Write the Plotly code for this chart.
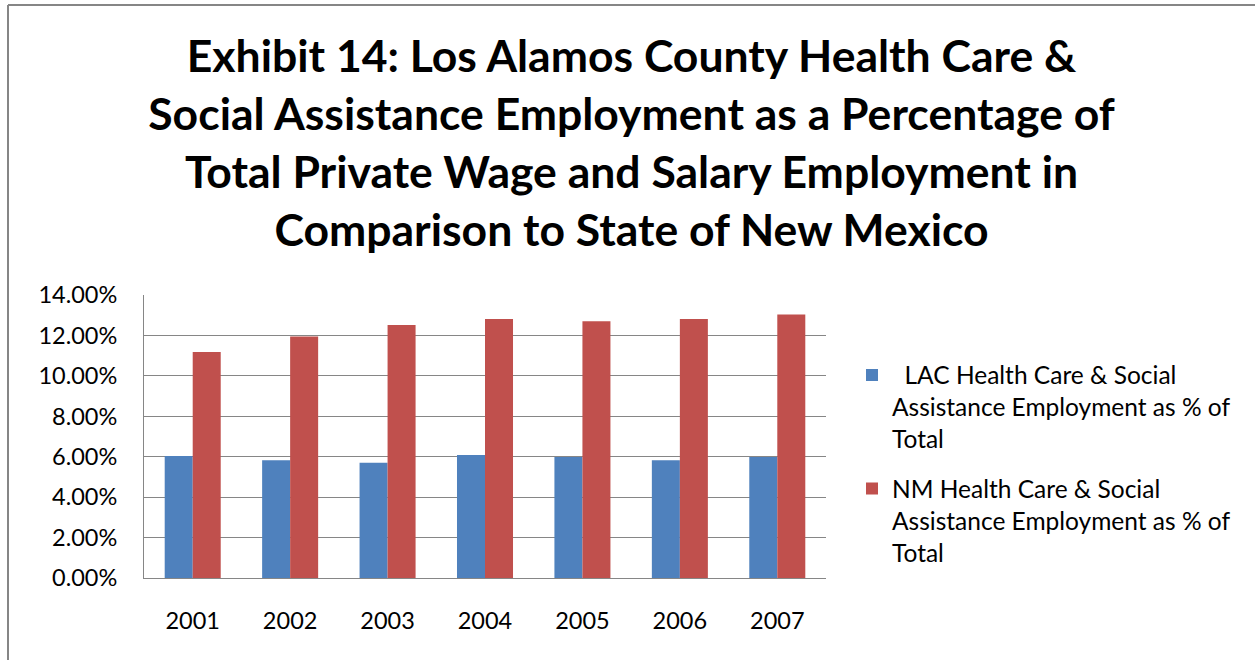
import plotly.graph_objects as go

years = ["2001", "2002", "2003", "2004", "2005", "2006", "2007"]
lac_pct = [0.0603, 0.0583, 0.0570, 0.0609, 0.0599, 0.0583, 0.0599]
nm_pct = [0.1118, 0.1195, 0.1251, 0.1281, 0.1270, 0.1281, 0.1303]
lac_name = "&nbsp;&nbsp;LAC Health Care & Social<br>Assistance Employment as % of<br>Total"
nm_name = "NM Health Care & Social<br>Assistance Employment as % of<br>Total"
title_text = ("Exhibit 14: Los Alamos County Health Care &<br>"
              "Social Assistance Employment as a Percentage of<br>"
              "Total Private Wage and Salary Employment in<br>"
              "Comparison to State of New Mexico")

W, H = 1255, 660
L, R, T, B = 144, 826, 295, 578

fig = go.Figure()
fig.add_trace(go.Bar(x=years, y=lac_pct, name=lac_name, marker_color="#4F81BD",
                     marker_line_width=0, legendgroup="a"))
fig.add_trace(go.Bar(x=years, y=nm_pct, name=nm_name, marker_color="#C0504D",
                     marker_line_width=0, legendgroup="b"))

def px(xs):
    return (xs - L) / (R - L)

def py(ys):
    return (B - ys) / (B - T)

fig.update_layout(
    width=W, height=H,
    margin=dict(l=L, r=W - R, t=T, b=H - B, pad=0),
    paper_bgcolor="white", plot_bgcolor="white",
    font=dict(family="Lato, Carlito, Calibri, sans-serif", color="#000000"),
    title=dict(text=title_text, x=0.5 + 4 / W, xref="container", xanchor="center",
               y=1 - 72 / H, yref="container", yanchor="middle",
               font=dict(size=44.5, family="Lato, sans-serif", weight="bold", color="#000000")),
    barmode="group", bargap=0.425, bargroupgap=0,
    showlegend=True,
    legend=dict(x=px(852), y=py(352.5), xanchor="left", yanchor="top", valign="top",
                font=dict(size=24.5), traceorder="grouped", tracegroupgap=15,
                bgcolor="rgba(0,0,0,0)", itemwidth=30),
    xaxis=dict(type="category", showline=True, linecolor="#868686", linewidth=1,
               showgrid=False, ticks="", tickfont=dict(size=23.5), ticklabelstandoff=22),
    yaxis=dict(range=[0, 0.14], dtick=0.02, tickformat=".2%", showgrid=True,
               gridcolor="#868686", gridwidth=1, showline=True, linecolor="#868686",
               linewidth=1, ticks="", tickfont=dict(size=23.5), ticklabelstandoff=21,
               zeroline=False),
)

# outer frame (top and left edges)
fig.add_shape(type="line", xref="paper", yref="paper", x0=px(8), x1=px(W + 5), y0=py(5), y1=py(5),
              line=dict(color="#868686", width=2))
fig.add_shape(type="line", xref="paper", yref="paper", x0=px(8), x1=px(8), y0=py(5), y1=py(H + 5),
              line=dict(color="#868686", width=2))

fig.write_html("out.html", config={"displayModeBar": False},
               post_script="document.body.style.margin='0px';")
